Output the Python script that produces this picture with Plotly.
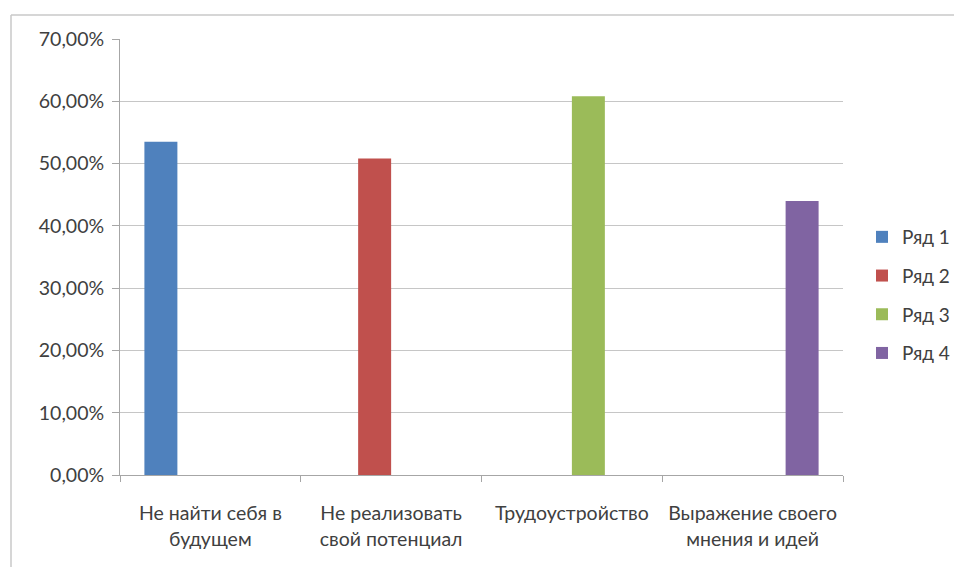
import plotly.graph_objects as go

categories = ["Не найти себя в<br>будущем", "Не реализовать<br>свой потенциал",
              "Трудоустройство", "Выражение своего<br>мнения и идей"]
series_names = ["Ряд 1", "Ряд 2", "Ряд 3", "Ряд 4"]
series_values = [
    [0.535, None, None, None],
    [None, 0.508, None, None],
    [None, None, 0.608, None],
    [None, None, None, 0.440],
]
colors = ["#4F81BD", "#C0504D", "#9BBB59", "#8064A2"]
y_ticks = [0, 0.1, 0.2, 0.3, 0.4, 0.5, 0.6, 0.7]

fig = go.Figure()
for name, vals, col in zip(series_names, series_values, colors):
    fig.add_trace(go.Bar(x=categories, y=vals, name=name, marker_color=col,
                         marker_line_width=0, legendgroup=name))

W, H = 954, 567
L, T = 120, 39
pw, ph = 723, 436
R, B = W - L - pw, H - T - ph
bottom = T + ph

fig.update_layout(
    width=W, height=H,
    margin=dict(l=L, r=R, t=T, b=B, pad=0, autoexpand=False),
    paper_bgcolor="white", plot_bgcolor="white",
    barmode="group", bargap=0.27, bargroupgap=0,
    separators=",.",
    font=dict(family="Lato, Noto Sans, sans-serif", size=19.5, color="#404040"),
    legend=dict(x=(862 - L) / pw, y=(bottom - 295) / ph, xanchor="left", yanchor="middle",
                tracegroupgap=11, font=dict(size=19, color="#404040"),
                itemwidth=30, traceorder="grouped"),
    xaxis=dict(showline=True, linecolor="#a6a6a6", linewidth=1,
               ticks="outside", tickson="boundaries", ticklen=6, tickcolor="#a6a6a6",
               showgrid=False, ticklabelstandoff=21, tickangle=0, automargin=False),
    yaxis=dict(range=[0, 0.7], tickvals=y_ticks, tickformat=".2%",
               showline=True, linecolor="#a6a6a6", linewidth=1,
               ticks="outside", ticklen=7, tickcolor="#a6a6a6", automargin=False,
               ticklabelstandoff=4,
               showgrid=True, gridcolor="#c6c6c6", gridwidth=1, zeroline=False),
    shapes=[
        dict(type="line", xref="paper", yref="paper",
             x0=(11 - L) / pw, x1=(W + 10 - L) / pw,
             y0=(bottom - 15) / ph, y1=(bottom - 15) / ph,
             line=dict(color="#c8c8c8", width=1.5)),
        dict(type="line", xref="paper", yref="paper",
             x0=(11 - L) / pw, x1=(11 - L) / pw,
             y0=(bottom - 15) / ph, y1=(bottom - H - 10) / ph,
             line=dict(color="#c8c8c8", width=1.5)),
    ],
)

fig.write_html("out.html", config={"displayModeBar": False},
               post_script="document.body.style.margin='0';")
